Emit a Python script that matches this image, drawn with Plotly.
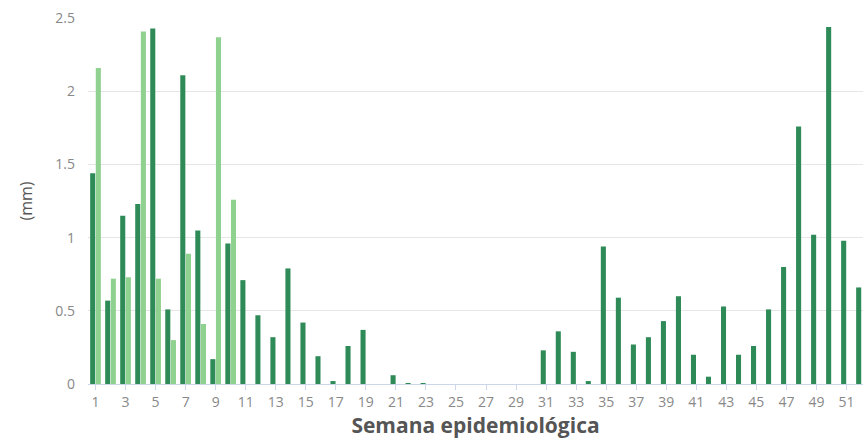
import plotly.graph_objects as go

weeks = list(range(1, 53))
serie_oscura = [1.44, 0.57, 1.15, 1.23, 2.43, 0.51, 2.11, 1.05, 0.17, 0.96,
                0.71, 0.47, 0.32, 0.79, 0.42, 0.19, 0.02, 0.26, 0.37, 0.0,
                0.06, 0.005, 0.005, 0.0, 0.0, 0.0, 0.0, 0.0, 0.0, 0.0,
                0.23, 0.36, 0.22, 0.02, 0.94, 0.59, 0.27, 0.32, 0.43, 0.60,
                0.20, 0.05, 0.53, 0.20, 0.26, 0.51, 0.80, 1.76, 1.02, 2.44,
                0.98, 0.66]
serie_clara = [2.16, 0.72, 0.73, 2.41, 0.72, 0.30, 0.89, 0.41, 2.37, 1.26] + [None] * 42
x_ticks = list(range(1, 52, 2))
y_ticks = [0, 0.5, 1, 1.5, 2, 2.5]

fig = go.Figure()
fig.add_trace(go.Bar(x=weeks, y=serie_oscura, name="Semana actual",
                     marker=dict(color="#2e8b57", line=dict(width=0))))
fig.add_trace(go.Bar(x=weeks, y=serie_clara, name="Semana anterior",
                     marker=dict(color="#8fd18e", line=dict(width=0))))

fig.update_layout(
    width=863, height=440,
    barmode="group", bargap=0.25, bargroupgap=0.1,
    plot_bgcolor="white", paper_bgcolor="white",
    margin=dict(l=88, r=0, t=18, b=56),
    showlegend=False,
    font=dict(family="Open Sans, sans-serif", color="#888888", size=13),
)
fig.update_xaxes(
    range=[0.5, 52.1], tickmode="array", tickvals=x_ticks,
    ticktext=[str(t) for t in x_ticks],
    ticks="outside", ticklen=5, tickcolor="#ccd6eb",
    showline=True, linecolor="#ccd6eb", linewidth=1,
    showgrid=False, automargin=False,
    tickfont=dict(size=14, color="#888888"),
    title=dict(text="<b>Semana epidemiológica</b>", font=dict(size=21, color="#555555"), standoff=3),
)
fig.update_yaxes(
    range=[0, 2.502], tickvals=y_ticks,
    ticktext=[str(t) for t in y_ticks],
    showgrid=True, gridcolor="#e6e6e6", zeroline=False, automargin=False,
    tickfont=dict(size=14, color="#888888"), ticklabelstandoff=12,
    title=dict(text="(mm)", font=dict(size=16, color="#555555"), standoff=18),
)

fig.write_html("out.html", config={"displayModeBar": False},
               post_script="document.body.style.margin='0px';")
